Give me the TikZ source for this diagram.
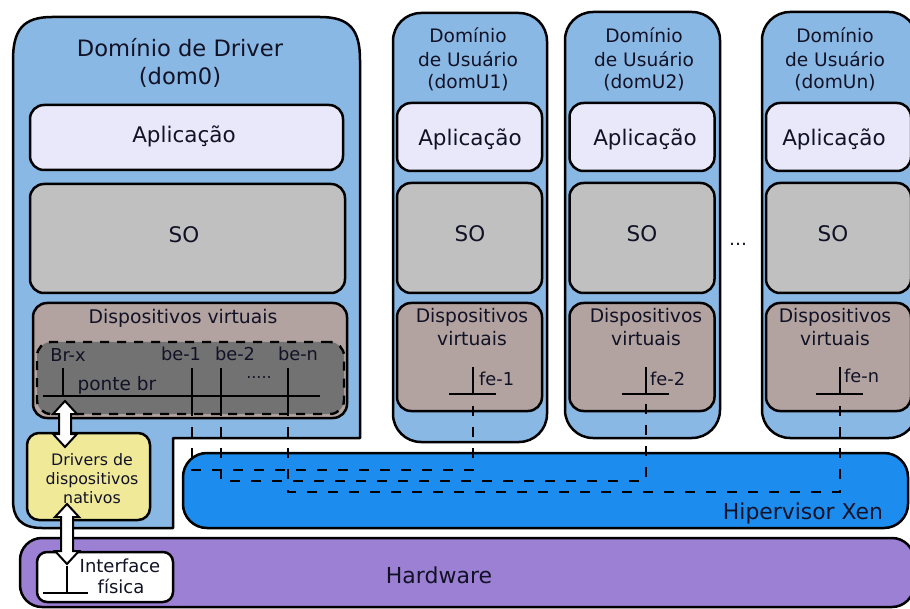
\documentclass[tikz,border=0pt]{standalone}
\usepackage{fontspec}
\setmainfont{DejaVu Sans}
\usetikzlibrary{calc}

\definecolor{domblue}{RGB}{138,184,228}
\definecolor{appfill}{RGB}{232,232,250}
\definecolor{osfill}{RGB}{192,192,192}
\definecolor{devfill}{RGB}{178,163,160}
\definecolor{bridgefill}{RGB}{114,114,114}
\definecolor{xenblue}{RGB}{28,140,238}
\definecolor{hwpurple}{RGB}{156,128,212}
\definecolor{drvyellow}{RGB}{240,234,152}
\definecolor{ink}{RGB}{18,18,38}

\newcommand{\sz}[1]{\fontsize{#1}{#1}\selectfont}
% fat white double arrow between two vertically aligned tips (top, bottom)
\newcommand{\xenarrow}[2]{%
  \draw[fatarrow] (#1) -- ++(12,13) -- ++(-6,0) -- ($(#2)+(6,-13)$) -- ++(6,0)
    -- (#2) -- ++(-12,-13) -- ++(6,0) -- ($(#1)+(-6,13)$) -- ++(-6,0) -- cycle;}

\begin{document}
\begin{tikzpicture}[x=1pt,y=-1pt,
  outline/.style={draw=black, line width=2.5pt},
  box/.style={outline, rounded corners=#1, inner sep=0pt},
  box/.default=13pt,
  darkzone/.style={draw=black, line width=2.4pt, dash pattern=on 9pt off 8pt,
    rounded corners=14pt, inner sep=0pt, fill=bridgefill},
  wire/.style={draw=black, line width=2.6pt},
  link/.style={draw=black, line width=2.4pt, dash pattern=on 10pt off 11pt},
  fatarrow/.style={draw=black, line width=2pt, fill=white, line join=miter},
  lbl/.style={inner sep=0pt, anchor=base, text=ink},
  lblw/.style={inner sep=0pt, anchor=base west, text=ink},
]
\useasboundingbox (0,0) rectangle (910,609);
\clip (0,0) rectangle (910,609);

% ---------- driver domain (dom0) ----------
\draw[outline, fill=domblue, line join=round]
  (13,60) .. controls (13,30) and (23,17) .. (52,17) -- (320,17)
  .. controls (350,17) and (360,30) .. (360,60) -- (360,438) -- (173,438)
  -- (173,528) -- (42,528) .. controls (21,528) and (13,518) .. (13,500) -- cycle;

\node[box=14pt, fill=appfill, minimum width=313pt, minimum height=65pt] (app0) at (186.5,137.5) {};
\node[box=14pt, fill=osfill,  minimum width=315pt, minimum height=109pt] (os0) at (187.5,238.5) {};
\node[box=14pt, fill=devfill, minimum width=314pt, minimum height=115pt] (dev0) at (190,360.5) {};
\node[darkzone, minimum width=307pt, minimum height=72pt] (br0) at (190.5,378) {};

% ---------- user domains ----------
\node[box=28pt, fill=domblue, minimum width=154pt, minimum height=429pt] (domU1) at (470,227.5) {};
\node[box=28pt, fill=domblue, minimum width=155pt, minimum height=426pt] (domU2) at (642.5,225) {};
\node[box=28pt, fill=domblue, minimum width=155pt, minimum height=426pt] (domUn) at (839.5,225) {};

\foreach \d/\c in {1/469.5, 2/642, n/838.5}{
  \node[box=14pt, fill=appfill, minimum width=145pt, minimum height=68pt] (appU\d) at (\c,137) {};
  \node[box=14pt, fill=osfill,  minimum width=145pt, minimum height=110pt] (osU\d) at (\c,238) {};
  \node[box=14pt, fill=devfill, minimum width=145pt, minimum height=108pt] (devU\d) at (\c,357) {};
}

% ---------- hypervisor and hardware ----------
\node[box=24pt, fill=xenblue, minimum width=725pt, minimum height=75pt] (xen) at (545.5,490.5) {};
\node[box=22pt, fill=hwpurple, minimum width=894pt, minimum height=69pt] (hw) at (467,572.5) {};

% ---------- native drivers and physical interface ----------
\node[box=12pt, fill=drvyellow, minimum width=123pt, minimum height=87pt] (drv) at (88.5,476.5) {};
\node[box=10pt, fill=white, minimum width=136pt, minimum height=50pt] (nic) at (105,577) {};

% ---------- bridge in dom0 ----------
\coordinate (bl) at (43,396);
\coordinate (bre) at (320,396);
\coordinate (brx) at (63,368);
\coordinate (be1) at (192,368);
\coordinate (be2) at (221,368);
\coordinate (ben) at (288,368);
\coordinate (be1d) at (192,406);
\coordinate (be2d) at (221,406);
\coordinate (bend) at (288,406);
\draw[wire] (bl) -- (bre);
\draw[wire] (brx) -- (brx |- bl);
\draw[wire] (be1) -- (be1d);
\draw[wire] (be2) -- (be2d);
\draw[wire] (ben) -- (bend);

% ---------- front-end devices in user domains ----------
\foreach \d/\x in {1/473, 2/646, n/840}{
  \coordinate (fe\d) at (\x,367);
  \coordinate (fe\d b) at (\x,394);
  \draw[wire] (fe\d) -- (fe\d b);
  \draw[wire] ($(fe\d b)+(-24,0)$) -- ($(fe\d b)+(23,0)$);
}

% ---------- split-driver channels through the hypervisor ----------
\coordinate (row1) at (0,470);
\coordinate (row2) at (0,481);
\coordinate (row3) at (0,492);
\draw[link] (be1d) -- (be1d |- row1) -- (fe1b |- row1) -- (fe1b);
\draw[link] (be2d) -- (be2d |- row2) -- (fe2b |- row2) -- (fe2b);
\draw[link] (bend) -- (bend |- row3) -- (fenb |- row3) -- (fenb);

% ---------- physical interface symbol ----------
\coordinate (nict) at (67,566);
\coordinate (nicb) at (67,593);
\draw[wire] (nict) -- (nicb);
\draw[wire] (43,593) -- (88,593);

% ---------- labels ----------
\node[lbl, font=\sz{22.6}] (t0a) at (180,57) {Domínio de Driver};
\node[lbl, font=\sz{22.6}] (t0b) at (180,85) {(dom0)};
\node[lbl, font=\sz{21.5}] (tapp0) at (184,143) {Aplicação};
\node[lbl, font=\sz{21.5}] (tos0) at (184,243) {SO};
\node[lbl, font=\sz{18.8}] (tdev0) at (183,324) {Dispositivos virtuais};
\node[lbl, font=\sz{17.8}] (tbrx) at (68,362) {Br-x};
\node[lbl, font=\sz{17.8}] (tbe1) at (181,361) {be-1};
\node[lbl, font=\sz{17.8}] (tbe2) at (235,361) {be-2};
\node[lbl, font=\sz{17.8}] (tben) at (298,361) {be-n};
\node[lbl, font=\sz{18.5}] (tponte) at (117,390) {ponte br};
\node[lbl, font=\sz{16}] (tdots) at (259,378) {.....};

\foreach \d/\c/\ca/\cs/\cd in {1/468/470/470/472, 2/644/645/642/646, n/835/834/833/835}{
  \node[lbl, font=\sz{18.6}] (tU\d a) at (\c,43) {Domínio};
  \node[lbl, font=\sz{18.6}] (tU\d b) at (\c,67) {de Usuário};
  \node[lbl, font=\sz{18.6}] (tU\d c) at (\c,89) {(domU\d)};
  \node[lbl, font=\sz{21.5}] (tappU\d) at (\ca,146) {Aplicação};
  \node[lbl, font=\sz{21.5}] (tosU\d) at (\cs,242) {SO};
  \node[lbl, font=\sz{18.7}] (tdevU\d a) at (\cd,323) {Dispositivos};
  \node[lbl, font=\sz{18.7}] (tdevU\d b) at (\cd,346) {virtuais};
}
\node[lblw, font=\sz{17.8}] (tfe1) at (479,385) {fe-1};
\node[lblw, font=\sz{17.8}] (tfe2) at (650,385) {fe-2};
\node[lblw, font=\sz{17.8}] (tfen) at (844,383) {fe-n};
\node[lbl, font=\sz{18}] (tmore) at (738,246) {…};

\node[lbl, font=\sz{21.9}] (txen) at (803,519) {Hipervisor Xen};
\node[lbl, font=\sz{22}] (thw) at (439,583) {Hardware};

\node[lbl, font=\sz{15.8}] (tdrva) at (92,465) {Drivers de};
\node[lbl, font=\sz{15.8}] (tdrvb) at (92,484) {dispositivos};
\node[lbl, font=\sz{15.8}] (tdrvc) at (92,503) {nativos};
\node[lbl, font=\sz{18}] (tnica) at (120,572) {Interface};
\node[lbl, font=\sz{18}] (tnicb) at (121,593) {física};

% ---------- data paths: bridge <-> native drivers <-> interface ----------
\coordinate (a1t) at (65,401);
\coordinate (a1b) at (65,447);
\coordinate (a2t) at (67,504);
\coordinate (a2b) at (67,564);
\xenarrow{a1t}{a1b}
\xenarrow{a2t}{a2b}
\end{tikzpicture}
\end{document}
